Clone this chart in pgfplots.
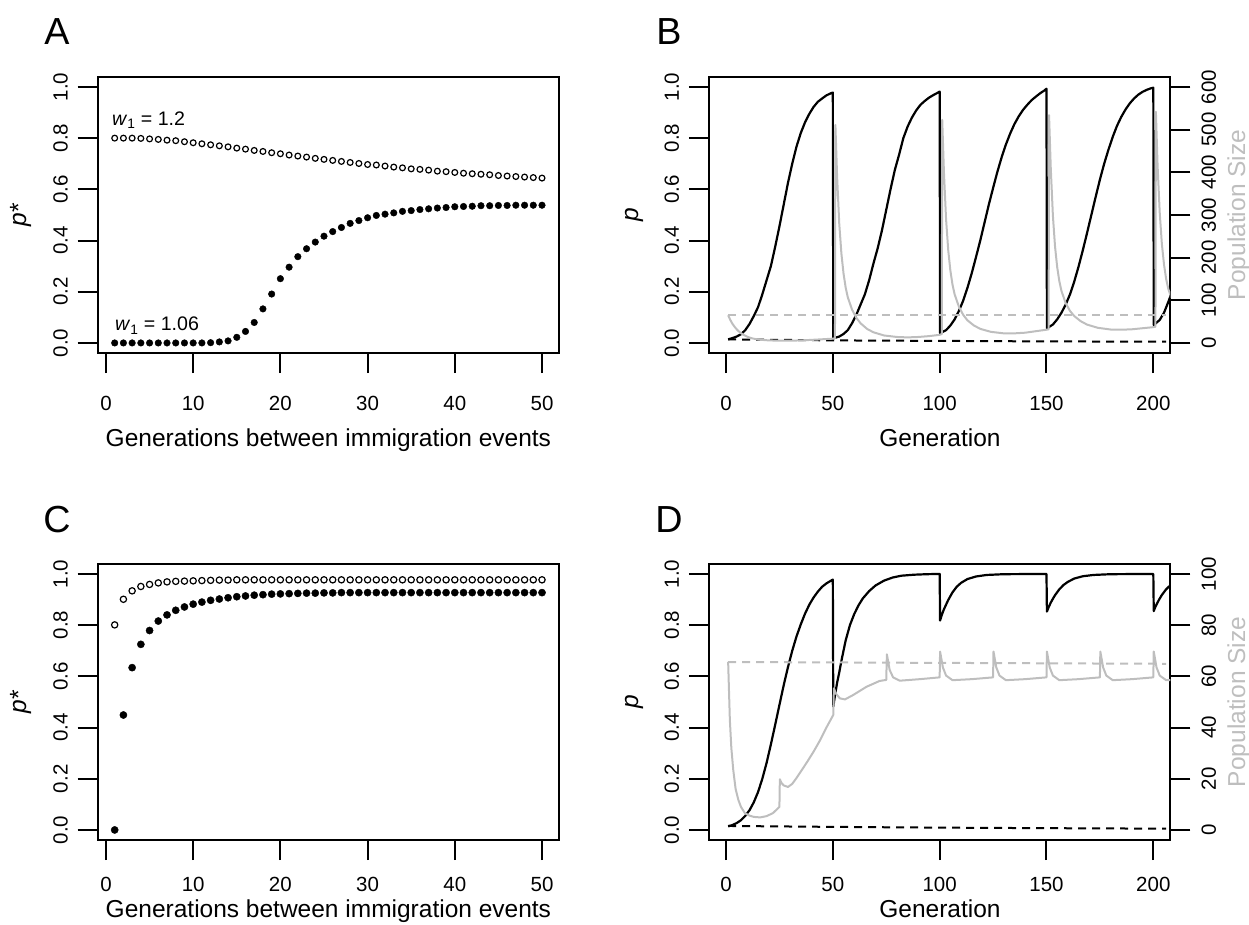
\documentclass[border=0pt]{standalone}
\usepackage{fontspec}
\setmainfont{Liberation Sans}
\usepackage{pgfplots}
\pgfplotsset{compat=1.18}
\definecolor{rgray}{HTML}{BEBEBE}
\newcommand\fs{\fontsize{24.5}{29}\selectfont}
\newcommand\ts{\fontsize{20.5}{24}\selectfont}

\pgfplotsset{
  rbox/.style={
    scale only axis, width=461.5pt, height=276.5pt, anchor=south west,
    axis line style={line width=2pt, black},
    tick style={line width=2pt, black},
    major tick length=20pt, tick align=outside,
    ymin=-0.04, ymax=1.04,
    ytick={0,0.2,0.4,0.6,0.8,1.0},
    yticklabels={0.0,0.2,0.4,0.6,0.8,1.0},
    ticklabel style={font=\ts},
    yticklabel style={rotate=90, anchor=south, inner sep=0pt},
    xticklabel style={anchor=north, inner sep=0pt},
    xticklabel shift=22.8pt, yticklabel shift=9.6pt,
    xtick pos=left, ytick pos=left,
    /pgf/number format/assume math mode=true,
  },
  lowrow/.style={xticklabel shift=17pt},
  genaxis/.style={rbox, xmin=-0.96, xmax=51.96,
    xtick={0,10,20,30,40,50}, xticklabels={0,10,20,30,40,50}},
  timeaxis/.style={rbox, xmin=-8, xmax=208,
    xtick={0,50,100,150,200}, xticklabels={0,50,100,150,200}},
  rightaxis/.style={
    scale only axis, width=461.5pt, height=276.5pt, anchor=south west,
    xmin=-8, xmax=208, axis x line=none, axis y line*=right,
    axis line style={line width=2pt, black},
    tick style={line width=2pt, black},
    major tick length=20pt, tick align=outside,
    ticklabel style={font=\ts},
    yticklabel style={rotate=90, anchor=north, inner sep=0pt},
    yticklabel shift=11pt,
    /pgf/number format/assume math mode=true,
  },
  openpt/.style={only marks, mark=o, mark size=#1, mark options={line width=1.2pt, black}},
  fullpt/.style={only marks, mark=*, mark size=#1, black, mark options={fill=black}},
  pline/.style={black, line width=2.2pt, line join=round},
  nline/.style={rgray, line width=2pt, line join=round},
}

\begin{document}
\begin{tikzpicture}[x=1pt,y=1pt]
\path[use as bounding box] (0,0) rectangle (1249,925);

% ---------- A ----------
\begin{axis}[genaxis, at={(97.6pt,571.8pt)}]
\addplot[openpt=2.9pt] coordinates {
(1,0.800)(2,0.800)(3,0.800)(4,0.799)(5,0.797)(6,0.795)(7,0.792)(8,0.790)(9,0.786)(10,0.782)
(11,0.778)(12,0.774)(13,0.770)(14,0.766)(15,0.761)(16,0.757)(17,0.752)(18,0.748)(19,0.743)(20,0.739)
(21,0.734)(22,0.730)(23,0.726)(24,0.721)(25,0.717)(26,0.713)(27,0.709)(28,0.705)(29,0.701)(30,0.697)
(31,0.695)(32,0.691)(33,0.687)(34,0.684)(35,0.680)(36,0.678)(37,0.675)(38,0.671)(39,0.669)(40,0.666)
(41,0.663)(42,0.661)(43,0.659)(44,0.657)(45,0.654)(46,0.652)(47,0.650)(48,0.648)(49,0.646)(50,0.644)};
\addplot[fullpt=3.3pt] coordinates {
(1,0)(2,0)(3,0)(4,0)(5,0)(6,0)(7,0)(8,0)(9,0)(10,0)
(11,0)(12,0.001)(13,0.004)(14,0.008)(15,0.022)(16,0.045)(17,0.080)(18,0.133)(19,0.191)(20,0.251)
(21,0.296)(22,0.337)(23,0.368)(24,0.394)(25,0.417)(26,0.435)(27,0.451)(28,0.467)(29,0.478)(30,0.489)
(31,0.498)(32,0.503)(33,0.508)(34,0.514)(35,0.517)(36,0.521)(37,0.524)(38,0.527)(39,0.529)(40,0.532)
(41,0.533)(42,0.534)(43,0.536)(44,0.536)(45,0.537)(46,0.537)(47,0.538)(48,0.538)(49,0.538)(50,0.538)};
\node[anchor=base west, inner sep=0pt, font=\fontsize{19.6}{23}\selectfont] at (axis cs:0.69,0.848) {\textit{w}\textsubscript{1} = 1.2};
\node[anchor=base west, inner sep=0pt, font=\fontsize{19.6}{23}\selectfont] at (axis cs:1.03,0.047) {\textit{w}\textsubscript{1} = 1.06};
\end{axis}

% ---------- B ----------
\begin{axis}[timeaxis, at={(708.9pt,571.8pt)}]
\addplot[pline] coordinates {
(1,0.014)(3,0.019)(5,0.025)(7,0.034)(9,0.050)(11,0.074)(13,0.105)(15,0.140)(17,0.190)(19,0.245)
(21,0.300)(23,0.375)(25,0.455)(27,0.540)(29,0.625)(31,0.700)(33,0.767)(35,0.820)(37,0.862)(39,0.895)
(41,0.922)(43,0.942)(45,0.955)(47,0.967)(49,0.975)(50,0.978)
(50.2,0.018)(53,0.025)(55,0.035)(57,0.050)(59,0.077)(61,0.110)(63,0.150)(65,0.190)(67,0.245)(69,0.310)
(71,0.370)(73,0.440)(75,0.520)(77,0.600)(79,0.675)(81,0.735)(83,0.800)(85,0.845)(87,0.880)(89,0.908)
(91,0.930)(93,0.945)(95,0.958)(97,0.968)(99,0.977)(100,0.982)
(100.2,0.038)(103,0.050)(105,0.068)(107,0.092)(109,0.125)(111,0.165)(113,0.215)(115,0.272)(117,0.335)
(119,0.400)(121,0.470)(123,0.540)(125,0.605)(127,0.668)(129,0.725)(131,0.775)(133,0.818)(135,0.855)
(137,0.885)(139,0.910)(141,0.930)(143,0.948)(145,0.962)(147,0.975)(149,0.986)(150,0.993)
(150.2,0.057)(153,0.072)(155,0.092)(157,0.118)(159,0.150)(161,0.190)(163,0.240)(165,0.298)(167,0.362)
(169,0.430)(171,0.500)(173,0.570)(175,0.638)(177,0.700)(179,0.755)(181,0.805)(183,0.848)(185,0.883)
(187,0.912)(189,0.936)(191,0.955)(193,0.970)(195,0.981)(197,0.989)(199,0.995)(200,0.997)
(200.2,0.070)(203,0.090)(205,0.118)(207,0.160)(209,0.205)};
\addplot[black, line width=2pt, dash pattern=on 8pt off 6pt] coordinates {
(1,0.014)(50,0.010)(100,0.008)(150,0.006)(206,0.005)};
\end{axis}
\begin{axis}[rightaxis, at={(708.9pt,571.8pt)}, ymin=-24, ymax=624,
  ytick={0,100,200,300,400,500,600}, yticklabels={0,100,200,300,400,500,600}]
\addplot[nline] coordinates {
(1,65)(2,54)(3,45)(4,38)(5,32)(6,27)(7,23)(8,19.5)(10,14.5)(12,11)(14,9)(16,7.5)(20,6)(25,5.3)
(30,5.3)(35,6)(40,7.2)(45,8.6)(50,10)(51,11)
(51.2,511)(52,390)(53,280)(54,210)(55,163)(56,130)(57,107)(59,78)(61,59)(63,46)(66,33)(69,25)(74,17.5)
(80,14)(85,13)(90,14)(95,16)(100,19)(101,21)
(101.2,523)(102,400)(103,290)(104,218)(105,170)(106,137)(107,114)(109,85)(111,66)(113,53)(116,41)
(119,33)(124,26)(130,22.5)(135,22.5)(140,24)(145,27.5)(150,31)(151,32)
(151.2,534)(152,410)(153,298)(154,226)(155,178)(156,145)(157,122)(159,93)(161,75)(163,63)(166,51)
(169,43)(174,35.5)(180,31.5)(185,31)(190,32)(195,34.5)(200,37)(201,38)
(201.2,542)(202,415)(203,305)(204,232)(205,184)(206,150)(207,127)(209,97)};
\addplot[rgray, line width=2pt, dash pattern=on 8pt off 6pt] coordinates {(1,65.6)(206,65.6)};
\end{axis}

% ---------- C ----------
\begin{axis}[genaxis, lowrow, at={(97.6pt,84.8pt)}]
\addplot[openpt=3.15pt] coordinates {
(1,0.801)(2,0.901)(3,0.934)(4,0.951)(5,0.959)(6,0.965)(7,0.969)(8,0.971)(9,0.972)(10,0.973)
(11,0.974)(12,0.975)(13,0.976)(14,0.976)(15,0.977)(16,0.977)(17,0.977)(18,0.977)(19,0.977)(20,0.977)
(21,0.977)(22,0.977)(23,0.977)(24,0.977)(25,0.977)(26,0.977)(27,0.977)(28,0.977)(29,0.977)(30,0.977)
(31,0.977)(32,0.977)(33,0.977)(34,0.977)(35,0.977)(36,0.977)(37,0.977)(38,0.977)(39,0.977)(40,0.977)
(41,0.977)(42,0.977)(43,0.977)(44,0.977)(45,0.977)(46,0.977)(47,0.977)(48,0.977)(49,0.977)(50,0.977)};
\addplot[fullpt=3.6pt] coordinates {
(1,0.000)(2,0.449)(3,0.634)(4,0.725)(5,0.779)(6,0.816)(7,0.840)(8,0.858)(9,0.871)(10,0.882)
(11,0.890)(12,0.897)(13,0.902)(14,0.907)(15,0.911)(16,0.914)(17,0.917)(18,0.919)(19,0.921)(20,0.922)
(21,0.923)(22,0.924)(23,0.925)(24,0.925)(25,0.926)(26,0.926)(27,0.927)(28,0.927)(29,0.927)(30,0.927)
(31,0.927)(32,0.927)(33,0.927)(34,0.927)(35,0.927)(36,0.927)(37,0.927)(38,0.927)(39,0.927)(40,0.927)
(41,0.927)(42,0.927)(43,0.927)(44,0.927)(45,0.927)(46,0.927)(47,0.927)(48,0.927)(49,0.927)(50,0.927)};
\end{axis}

% ---------- D ----------
\begin{axis}[timeaxis, lowrow, at={(708.9pt,84.8pt)}]
\addplot[pline] coordinates {
(1,0.014)(3,0.019)(5,0.027)(7,0.038)(9,0.055)(11,0.077)(13,0.108)(15,0.148)(17,0.200)(19,0.262)
(21,0.334)(23,0.410)(25,0.488)(27,0.565)(29,0.636)(31,0.700)(33,0.756)(35,0.803)(37,0.845)(39,0.880)
(41,0.908)(43,0.931)(45,0.950)(47,0.963)(49,0.973)(50,0.978)
(50.2,0.482)(51,0.525)(52,0.575)(53,0.615)(54,0.660)(55,0.700)(56,0.740)(58,0.800)(60,0.843)(62,0.877)
(64,0.904)(67,0.933)(70,0.955)(74,0.974)(78,0.986)(82,0.993)(88,0.997)(94,0.999)(100,1.000)
(100.2,0.818)(101,0.840)(102,0.862)(103,0.880)(104,0.898)(106,0.928)(108,0.950)(110,0.965)(113,0.980)
(117,0.990)(122,0.996)(130,0.999)(150,1.000)
(150.2,0.853)(151,0.870)(152,0.888)(153,0.903)(154,0.917)(156,0.940)(158,0.957)(160,0.969)(163,0.982)
(167,0.991)(172,0.996)(180,0.999)(200,1.000)
(200.2,0.855)(201,0.872)(202,0.889)(203,0.904)(204,0.918)(206,0.940)(208,0.956)(209,0.962)};
\addplot[black, line width=2pt, dash pattern=on 8pt off 6pt] coordinates {
(1,0.0156)(50,0.012)(100,0.009)(150,0.007)(206,0.005)};
\end{axis}
\begin{axis}[rightaxis, at={(708.9pt,84.8pt)}, ymin=-4, ymax=104,
  ytick={0,20,40,60,80,100}, yticklabels={0,20,40,60,80,100}]
\addplot[nline] coordinates {
(1,65.7)(1.8,43)(2.5,32)(3.4,23.4)(4.5,16)(5.8,11.7)(7,9)(8.9,6.5)(11,5.6)(13,5.1)(16,4.9)(19,5.4)
(22,6.6)(25,9.0)(25.2,19.8)(26,18.3)(27,17.4)(29,16.8)(31,18.0)(33,20.3)(35,22.8)(38,26.6)(41,30.6)
(44,35.0)(47,40.0)(50.2,44.9)(50.5,55.3)(51.5,53.2)(53.3,51.4)(55.7,51.0)(59.5,52.7)(65.7,55.9)
(71.9,58.2)(75,58.6)(75.3,68.6)(76.6,62.5)(78.2,59.6)(81.3,58.3)(90.7,58.9)(100,59.6)
(100.2,69.7)(101.5,63.5)(103,60.3)(106,58.5)(115,58.9)(125,59.6)
(125.2,69.7)(126.5,63.5)(128,60.3)(131,58.5)(140,58.9)(150,59.6)
(150.2,69.7)(151.5,63.5)(153,60.3)(156,58.5)(165,58.9)(175,59.6)
(175.2,69.7)(176.5,63.5)(178,60.3)(181,58.5)(190,58.9)(200,59.6)
(200.2,69.7)(201.5,63.5)(203,60.3)(206,58.5)(209,58.6)};
\addplot[rgray, line width=2pt, dash pattern=on 8pt off 6pt] coordinates {(1,65.6)(206,64.9)};
\end{axis}

% ---------- labels ----------
\foreach \L/\X/\Y in {A/57/893, B/669/893, C/57/405, D/669/405}
  \node[inner sep=0pt, font=\fontsize{37.7}{42}\selectfont] at (\X,\Y) {\L};
\node[anchor=base, font=\fs] at (328.4,478) {Generations between immigration events};
\node[anchor=base, font=\fs] at (940,478) {Generation};
\node[anchor=base, font=\fs] at (328.4,7) {Generations between immigration events};
\node[anchor=base, font=\fs] at (940,7) {Generation};
\node[rotate=90, anchor=base, font=\fs] at (27,710) {\textit{p}*};
\node[rotate=90, anchor=base, font=\fs] at (27,223) {\textit{p}*};
\node[rotate=90, anchor=base, font=\fs] at (638,710) {\textit{p}};
\node[rotate=90, anchor=base, font=\fs] at (638,223) {\textit{p}};
\node[rotate=90, anchor=base, font=\fs, text=rgray] at (1245,710) {Population Size};
\node[rotate=90, anchor=base, font=\fs, text=rgray] at (1245,223) {Population Size};
\end{tikzpicture}
\end{document}
